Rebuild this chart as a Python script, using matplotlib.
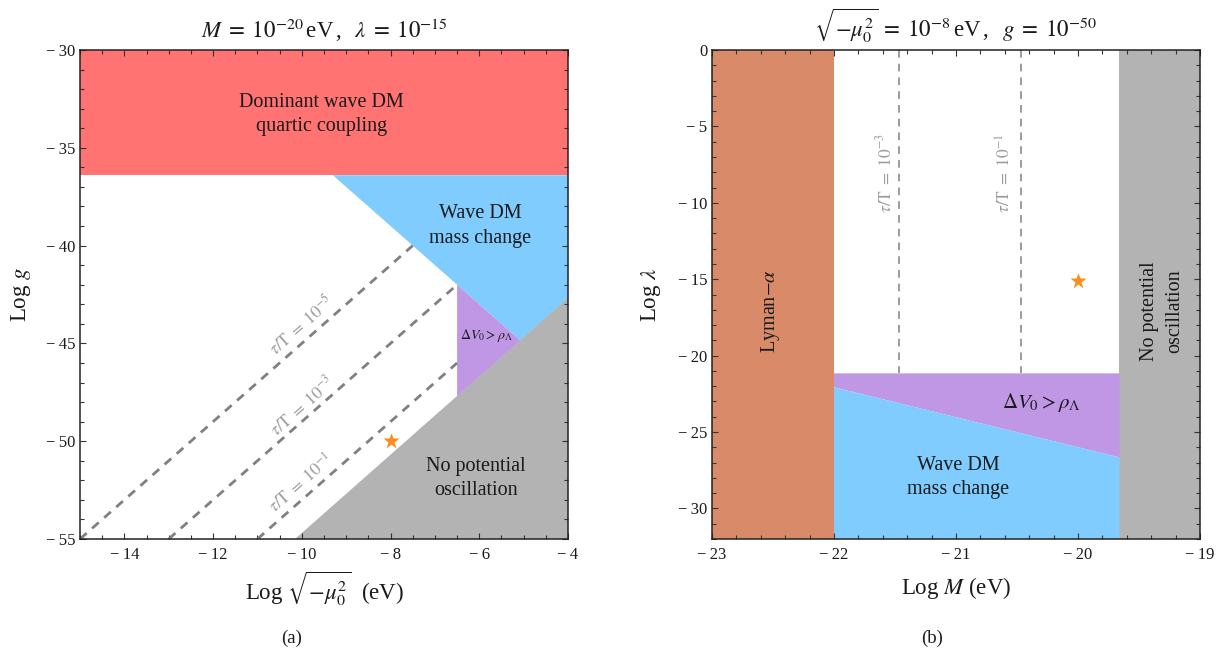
import numpy as np
import matplotlib
matplotlib.use("Agg")
import matplotlib.pyplot as plt
from matplotlib.ticker import MultipleLocator, FuncFormatter

plt.rcParams['font.family'] = ['Liberation Serif', 'DejaVu Serif']
plt.rcParams['mathtext.fontset'] = 'stix'

# ---------------- Panel (a) data ----------------
a_xlim = [-15, -4]
a_ylim = [-55, -30]
a_quartic_g = -36.4                      # bottom of red region
a_wave_x = [-9.3, -5.075]                # blue boundary (start at red, tip)
a_wave_y = [-36.4, -44.85]
a_noosc_x = [-10.15, -4.0]               # gray boundary
a_noosc_y = [-55.0, -42.7]
a_dv_x = -6.5                            # left edge of purple region
a_dv_top = -42.0
a_dv_bottom = -47.7
a_tau_x0 = [-15.0, -13.0, -11.0]
a_tau_y0 = [-55.0, -55.0, -55.0]
a_tau_x1 = [-7.5, -6.5, -6.5]
a_tau_y1 = [-40.0, -42.0, -46.0]
a_tau_exp = ['-5', '-3', '-1']
a_tau_label_x = [-10.0, -10.0, -10.0]
a_tau_label_y = [-44.1, -48.2, -52.2]
a_star = (-8.0, -50.0)

# ---------------- Panel (b) data ----------------
b_xlim = [-23, -19]
b_ylim = [-32, 0]
b_lyman_max = -22.0
b_noosc_min = -19.66
b_dv_top = -21.16
b_wave_x = [-22.0, -19.66]
b_wave_y = [-22.07, -26.66]
b_tau_x = [-21.47, -20.47]
b_tau_exp = ['-3', '-1']
b_tau_label_x = [-21.58, -20.6]
b_tau_label_y = -8.05
b_star = (-20.0, -15.1)

RED = '#FF7373'
BLUE = '#80CCFF'
PURPLE = '#BF97E5'
GRAY = '#B3B3B3'
BROWN = '#D98B69'
ORANGE = '#FF8C1A'
TXT = '#1a1a1a'
DASH = '#808080'


def minus_fmt(v, pos):
    iv = int(round(v))
    return ('\u2212\u2009' if iv < 0 else '') + str(abs(iv))


def style_axes(ax, xmaj, xmin, ymaj, ymin):
    ax.xaxis.set_major_locator(MultipleLocator(xmaj))
    ax.xaxis.set_minor_locator(MultipleLocator(xmin))
    ax.yaxis.set_major_locator(MultipleLocator(ymaj))
    ax.yaxis.set_minor_locator(MultipleLocator(ymin))
    ax.xaxis.set_major_formatter(FuncFormatter(minus_fmt))
    ax.yaxis.set_major_formatter(FuncFormatter(minus_fmt))
    ax.tick_params(which='both', direction='in', top=True, right=True,
                   color='#333333', width=0.8, labelsize=12, labelcolor=TXT)
    ax.tick_params(which='major', length=4.5)
    ax.tick_params(which='minor', length=2.6)
    ax.tick_params(axis='x', which='major', pad=6)
    ax.tick_params(axis='y', which='major', pad=3.5)
    for s in ax.spines.values():
        s.set_color('#222222')
        s.set_linewidth(1.1)
        s.set_zorder(10)


fig = plt.figure(figsize=(12.24, 6.51), dpi=100)
W, H = 1224, 651
ax1 = fig.add_axes([80 / W, 1 - 539 / H, 488 / W, 489 / H])
ax2 = fig.add_axes([712 / W, 1 - 539 / H, 488 / W, 489 / H])

# ---------------- Panel (a) ----------------
ax = ax1
ax.set_xlim(a_xlim)
ax.set_ylim(a_ylim)
ax.fill_between(a_xlim, [a_quartic_g] * 2, [a_ylim[1]] * 2, color=RED, lw=0, zorder=1)
blue_poly = [(a_wave_x[0], a_wave_y[0]), (a_xlim[1], a_quartic_g),
             (a_xlim[1], a_noosc_y[1]), (a_wave_x[1], a_wave_y[1])]
ax.fill(*zip(*blue_poly), color=BLUE, lw=0, zorder=1)
gray_poly = [(a_noosc_x[0], a_noosc_y[0]), (a_xlim[1], a_ylim[0]),
             (a_noosc_x[1], a_noosc_y[1])]
ax.fill(*zip(*gray_poly), color=GRAY, lw=0, zorder=1)
purple_poly = [(a_dv_x, a_dv_top), (a_wave_x[1], a_wave_y[1]), (a_dv_x, a_dv_bottom)]
ax.fill(*zip(*purple_poly), color=PURPLE, lw=0, zorder=2)

for x0, y0, x1, y1, e, lx, ly in zip(a_tau_x0, a_tau_y0, a_tau_x1, a_tau_y1,
                                     a_tau_exp, a_tau_label_x, a_tau_label_y):
    ax.plot([x0, x1], [y0, y1], ls=(0, (3.2, 2.6)), color=DASH, lw=2.0, zorder=3,
            solid_capstyle='butt', dash_capstyle='butt')
    ang = np.degrees(np.arctan2(y1 - y0, x1 - x0))
    ax.text(lx, ly, r'$\tau/\mathrm{T}\;=\;10^{%s}$' % e, color='#9a9a9a', fontsize=12.5,
            rotation=ang, transform_rotates_text=True, rotation_mode='anchor',
            ha='center', va='center', zorder=4)

ax.plot([a_star[0]], [a_star[1]], marker='*', color=ORANGE, ms=12, mec='none', zorder=5)

ax.text(-9.55, -33.3, 'Dominant wave DM\nquartic coupling', ha='center', va='center',
        fontsize=14.5, color=TXT, linespacing=1.4, zorder=6)
ax.text(-5.98, -39.0, 'Wave DM\nmass change', ha='center', va='center',
        fontsize=14.5, color=TXT, linespacing=1.4, zorder=6)
ax.text(-5.84, -44.6, r'$\Delta V_0 > \rho_\Lambda$', ha='center', va='center',
        fontsize=10, color=TXT, zorder=6)
ax.text(-6.07, -51.9, 'No potential\noscillation', ha='center', va='center',
        fontsize=14.5, color=TXT, linespacing=1.4, zorder=6)

style_axes(ax, 2, 0.5, 5, 1)
ax.set_title(r'$M\;=\;10^{-20}\,$eV$\,$,$\;\;\;\lambda\;=\;10^{-15}$', fontsize=16.5,
             pad=9, color=TXT)
ax.set_xlabel(r'Log $\sqrt{-\mu_0^2}$  (eV)', fontsize=16.5, color=TXT, va='top')
ax.xaxis.set_label_coords(0.5, -0.064)
ax.set_ylabel(r'Log $g$', fontsize=16.5, color=TXT, va='center')
ax.yaxis.set_label_coords(-0.121, 0.5)

# ---------------- Panel (b) ----------------
ax = ax2
ax.set_xlim(b_xlim)
ax.set_ylim(b_ylim)
ax.fill_between([b_xlim[0], b_lyman_max], [b_ylim[0]] * 2, [b_ylim[1]] * 2,
                color=BROWN, lw=0, zorder=1)
ax.fill_between([b_noosc_min, b_xlim[1]], [b_ylim[0]] * 2, [b_ylim[1]] * 2,
                color=GRAY, lw=0, zorder=1)
purple_b = [(b_wave_x[0], b_dv_top), (b_wave_x[1], b_dv_top),
            (b_wave_x[1], b_wave_y[1]), (b_wave_x[0], b_wave_y[0])]
ax.fill(*zip(*purple_b), color=PURPLE, lw=0, zorder=1)
blue_b = [(b_wave_x[0], b_wave_y[0]), (b_wave_x[1], b_wave_y[1]),
          (b_wave_x[1], b_ylim[0]), (b_wave_x[0], b_ylim[0])]
ax.fill(*zip(*blue_b), color=BLUE, lw=0, zorder=1)

for xv, e, lx in zip(b_tau_x, b_tau_exp, b_tau_label_x):
    ax.plot([xv, xv], [b_ylim[1], b_dv_top], ls=(0, (5, 4)), color=DASH, lw=1.1, zorder=3)
    ax.text(lx, b_tau_label_y, r'$\tau/\mathrm{T}\;=\;10^{%s}$' % e, color='#9a9a9a',
            fontsize=12.5, rotation=90, ha='center', va='center', zorder=4)

ax.plot([b_star[0]], [b_star[1]], marker='*', color=ORANGE, ms=12, mec='none', zorder=5)

ax.text(-22.52, -17.1, r'Lyman$-\alpha$', rotation=90, ha='center', va='center',
        fontsize=14.5, color=TXT, zorder=6)
ax.text(-19.31, -17.1, 'No potential\noscillation', rotation=90, ha='center',
        va='center', fontsize=14.5, color=TXT, linespacing=1.4, zorder=6)
ax.text(-20.30, -23.1, r'$\Delta V_0 > \rho_\Lambda$', ha='center', va='center',
        fontsize=15, color=TXT, zorder=6)
ax.text(-20.98, -27.97, 'Wave DM\nmass change', ha='center', va='center',
        fontsize=14.5, color=TXT, linespacing=1.4, zorder=6)

style_axes(ax, 1, 0.2, 5, 1)
ax.set_title(r'$\sqrt{-\mu_0^2}\;=\;10^{-8}\,$eV$\,$,$\;\;\;g\;=\;10^{-50}$', fontsize=16.5,
             pad=9, color=TXT)
ax.set_xlabel(r'Log $M$ (eV)', fontsize=16.5, color=TXT, va='top')
ax.xaxis.set_label_coords(0.5, -0.074)
ax.set_ylabel(r'Log $\lambda$', fontsize=16.5, color=TXT, va='center')
ax.yaxis.set_label_coords(-0.125, 0.5)

fig.text(292 / W, 1 - 638 / H, '(a)', ha='center', va='center', fontsize=13.5, color=TXT)
fig.text(932 / W, 1 - 638 / H, '(b)', ha='center', va='center', fontsize=13.5, color=TXT)

fig.savefig('out.png', dpi=100)
